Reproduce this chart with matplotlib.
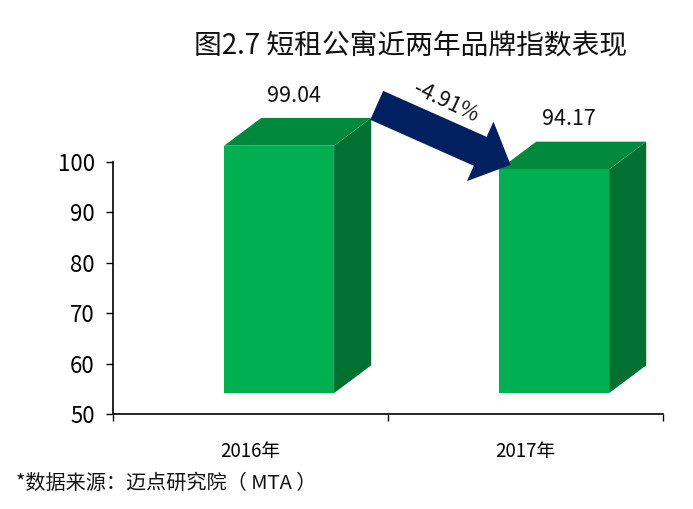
import matplotlib
matplotlib.use("Agg")
import matplotlib.pyplot as plt
from matplotlib.patches import Polygon, FancyArrowPatch

plt.rcParams['font.family'] = ['Noto Sans CJK SC', 'DejaVu Sans']

# ---- data ----
title = "图2.7 短租公寓近两年品牌指数表现"
categories = ["2016年", "2017年"]
values = [99.04, 94.17]
value_labels = ["99.04", "94.17"]
change_label = "-4.91%"
yticks = [50, 60, 70, 80, 90, 100]
source = "*数据来源：迈点研究院（ MTA ）"

# ---- style ----
front_c = "#00B050"
top_c = "#00893C"
side_c = "#007130"
arrow_c = "#002060"

W, H, DPI = 6.93, 5.09, 100
fig = plt.figure(figsize=(W, H), dpi=DPI)
ax_left, ax_right, ax_bottom_px, ax_top_px = 113, 663, 414.3, 71
ax = fig.add_axes([ax_left / 693, 1 - ax_bottom_px / 509,
                   (ax_right - ax_left) / 693, (ax_bottom_px - ax_top_px) / 509])
ax.set_xlim(0, 2)
ax.set_ylim(50, 118)

# pseudo-3D projection of the bars
bar_w = 0.4
bar_off = -0.096
depth_x, depth_y = 0.135, 5.5
front_base = 54.2
k_persp, c_persp = 0.965, 7.63

tops = []
for i, v in enumerate(values):
    cx = i + 0.5
    x0 = cx + bar_off
    x1 = x0 + bar_w
    yt = k_persp * v + c_persp
    tops.append((x0, x1, yt))
    y0 = front_base
    # side
    ax.add_patch(Polygon([(x1, y0), (x1 + depth_x, y0 + depth_y),
                          (x1 + depth_x, yt + depth_y), (x1, yt)],
                         closed=True, facecolor=side_c, edgecolor='none', zorder=2))
    # top
    ax.add_patch(Polygon([(x0, yt), (x1, yt), (x1 + depth_x, yt + depth_y),
                          (x0 + depth_x, yt + depth_y)],
                         closed=True, facecolor=top_c, edgecolor='none', zorder=2))
    # front
    ax.add_patch(Polygon([(x0, y0), (x1, y0), (x1, yt), (x0, yt)],
                         closed=True, facecolor=front_c, edgecolor='none', zorder=3))
    ax.text((x0 + x1) / 2 + 0.055, yt + depth_y + 4.4, value_labels[i],
            ha='center', va='center', fontsize=15.5, color='#111111', zorder=5)

# change arrow between the bars
(ax0, ax1, at), (bx0, bx1, bt) = tops
tail = (ax1 + depth_x + 0.02, at + depth_y + 2.5)
tip = (bx0 + 0.042, bt + 0.9)
arr = FancyArrowPatch(tail, tip,
                      arrowstyle="simple,head_width=47,head_length=24,tail_width=22.8",
                      mutation_scale=1, shrinkA=0, shrinkB=0,
                      facecolor=arrow_c, edgecolor='none', zorder=6, clip_on=False)
ax.add_patch(arr)
ax.text(1.21, 111.8, change_label, rotation=-25, rotation_mode='anchor',
        ha='center', va='center', fontsize=15.5, color='#111111', zorder=7)

# axes styling
for s in ['top', 'right']:
    ax.spines[s].set_visible(False)
ax.spines['left'].set_bounds(50, 100)
ax.spines['left'].set_linewidth(1.2)
ax.spines['bottom'].set_linewidth(1.2)
ax.set_yticks(yticks)
ax.set_yticklabels([str(t) for t in yticks], fontsize=16)
ax.tick_params(axis='y', direction='out', length=5, width=1, pad=8)
ax.set_xticks([0, 1, 2])
ax.set_xticklabels(['', '', ''])
ax.set_xticks([0.5, 1.5], minor=True)
ax.set_xticklabels(categories, minor=True, fontsize=13.5)
ax.tick_params(axis='x', which='minor', length=0, pad=19)
ax.tick_params(axis='x', which='major', direction='out', length=5, width=1)

fig.text(411 / 693, 1 - 46 / 509, title, ha='center', va='center', fontsize=20,
         color='#111111')
fig.text(16 / 693, 1 - 483 / 509, source, ha='left', va='center', fontsize=14.5,
         color='#111111')

fig.savefig("out.png", dpi=DPI, facecolor='white')
